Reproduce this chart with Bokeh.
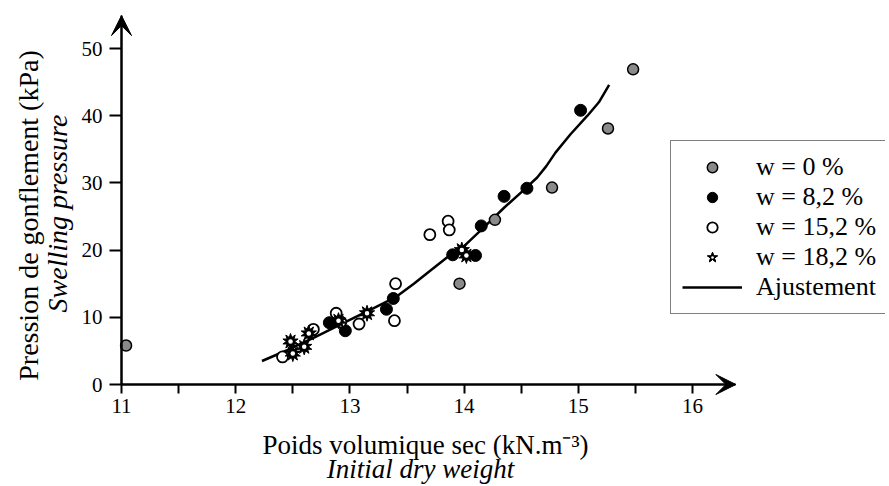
import math
from bokeh.plotting import figure
from bokeh.models import (Range1d, FixedTicker, Label, Legend, LegendItem,
                          Arrow, VeeHead, ColumnDataSource, LinearAxis)
from bokeh.embed import file_html
from bokeh.resources import INLINE

# ---------------- data ----------------
w0_x = [11.04, 13.96, 14.27, 14.77, 15.26, 15.48]
w0_y = [5.8, 15.0, 24.5, 29.3, 38.1, 46.9]

w82_x = [12.82, 12.96, 13.32, 13.38, 13.90, 14.10, 14.15, 14.35, 14.55, 15.02]
w82_y = [9.2, 8.0, 11.2, 12.8, 19.3, 19.2, 23.6, 28.0, 29.2, 40.8]

w152_x = [12.41, 12.68, 12.88, 12.92, 13.08, 13.39, 13.40, 13.70, 13.86, 13.87]
w152_y = [4.1, 8.2, 10.6, 9.3, 9.0, 9.5, 15.0, 22.3, 24.3, 23.0]

w182_x = [12.48, 12.50, 12.60, 12.64, 12.90, 13.15, 13.98, 14.02]
w182_y = [6.4, 4.6, 5.6, 7.6, 9.5, 10.6, 20.0, 19.2]

fit_x = [12.23, 12.45, 12.70, 12.95, 13.20, 13.40, 13.56, 13.70, 13.85, 14.00,
         14.15, 14.35, 14.50, 14.64, 14.72, 14.80, 14.93, 15.08, 15.18, 15.27]
fit_y = [3.5, 5.1, 7.1, 9.2, 11.3, 13.0, 15.0, 16.9, 18.9, 20.6,
         23.0, 26.3, 28.6, 30.8, 32.5, 34.5, 37.2, 40.0, 42.0, 44.6]

x_ticks = [11, 12, 13, 14, 15, 16]
x_minor = [11.5, 12.5, 13.5, 14.5, 15.5]
y_ticks = [0, 10, 20, 30, 40, 50]

labels = ["w = 0 %", "w = 8,2 %", "w = 15,2 %", "w = 18,2 %", "Ajustement"]
x_title = "Poids volumique sec (kN.m\u207b\u00b3)"
x_title2 = "Initial dry weight"
y_title = "Pression de gonflement (kPa)"
y_title2 = "Swelling pressure"

FONT = "Liberation Serif"

# ---------------- layout (pixels) ----------------
W, H = 885, 484
X0_PX, PX_X = 121, 114.2     # pixel of x=11, px per unit
Y0_PX, PX_Y = 384, 6.72      # pixel of y=0, px per unit

def dx(px):
    return 11 + (px - X0_PX) / PX_X

def dy(py):
    return (Y0_PX - py) / PX_Y

p = figure(width=W, height=H,
           x_range=Range1d(dx(0), dx(W)),
           y_range=Range1d(dy(H), dy(0)),
           x_axis_type=None, y_axis_type=None,
           output_backend="svg", toolbar_location=None,
           min_border=0)
p.grid.visible = False
p.outline_line_color = None
p.background_fill_color = "white"
p.border_fill_color = "white"

x_end = 16.38
y_end = 54.9

xa = LinearAxis(fixed_location=0)
ya = LinearAxis(fixed_location=11)
for ax in (xa, ya):
    ax.axis_line_width = 2
    ax.axis_line_color = "black"
    ax.major_tick_line_width = 2
    ax.minor_tick_line_width = 2
    ax.major_tick_in = 0
    ax.minor_tick_in = 0
    ax.major_label_text_font = FONT
    ax.major_label_text_font_size = "21px"
    ax.major_label_text_color = "black"

xa.ticker = FixedTicker(ticks=x_ticks, minor_ticks=x_minor)
xa.bounds = (11, x_end)
xa.major_tick_out = 9
xa.minor_tick_out = 9
xa.major_label_standoff = 5

ya.ticker = FixedTicker(ticks=y_ticks, minor_ticks=[])
ya.bounds = (0, y_end)
ya.major_tick_out = 12
ya.major_label_standoff = 7

p.add_layout(xa, "below")
p.add_layout(ya, "left")

# axis arrows
p.add_layout(Arrow(x_start=11, y_start=0, x_end=x_end, y_end=0, line_width=2,
                   line_color="black",
                   end=VeeHead(size=20, fill_color="black", line_color="black")))
p.add_layout(Arrow(x_start=11, y_start=0, x_end=11, y_end=y_end, line_width=2,
                   line_color="black",
                   end=VeeHead(size=20, fill_color="black", line_color="black")))

# fit
r_fit = p.line(fit_x, fit_y, line_width=2.5, line_color="black", line_join="round")

# data
r0 = p.scatter(w0_x, w0_y, marker="circle", size=11, fill_color="#8a8a8a",
               line_color="black", line_width=1.5)
r1 = p.scatter(w82_x, w82_y, marker="circle", size=12, fill_color="black",
               line_color="black", line_width=1)
r2 = p.scatter(w152_x, w152_y, marker="circle", size=11, fill_color="white",
               line_color="black", line_width=1.8)
src3 = ColumnDataSource(dict(x=w182_x, y=w182_y))
r3a = p.scatter("x", "y", source=src3, marker="star", size=16,
                fill_color="black", line_color="black", line_width=1)
r3b = p.scatter("x", "y", source=src3, marker="star", size=16, angle=math.pi / 5,
                fill_color="black", line_color="black", line_width=1)
r3c = p.scatter("x", "y", source=src3, marker="dot", size=18,
                line_color="white", fill_color="white")

legend = Legend(items=[
    LegendItem(label=labels[0], renderers=[r0]),
    LegendItem(label=labels[1], renderers=[r1]),
    LegendItem(label=labels[2], renderers=[r2]),
    LegendItem(label=labels[3], renderers=[r3a, r3b, r3c]),
    LegendItem(label=labels[4], renderers=[r_fit]),
], location=(670, H - 314))
legend.border_line_color = "black"
legend.border_line_width = 1.5
legend.label_text_font = FONT
legend.label_text_font_size = "26px"
legend.label_text_color = "black"
legend.glyph_width = 60
legend.glyph_height = 26
legend.label_height = 26
legend.spacing = 0
legend.padding = 11
legend.margin = 0
legend.label_standoff = 14
legend.background_fill_alpha = 1
p.add_layout(legend)

# axis titles
p.add_layout(Label(x=dx(262), y=dy(444), text=x_title,
                   text_font=FONT, text_font_size="27px", text_align="left",
                   text_baseline="alphabetic", text_color="black"))
p.add_layout(Label(x=dx(420), y=dy(468), text=x_title2,
                   text_font=FONT, text_font_size="27px", text_font_style="italic",
                   text_align="center", text_baseline="alphabetic", text_color="black"))
p.add_layout(Label(x=dx(28), y=dy(215), text=y_title,
                   angle=math.pi / 2, text_font=FONT, text_font_size="28px",
                   text_align="center", text_baseline="middle", text_color="black"))
p.add_layout(Label(x=dx(57), y=dy(213), text=y_title2,
                   angle=math.pi / 2, text_font=FONT, text_font_size="28px",
                   text_font_style="italic",
                   text_align="center", text_baseline="middle", text_color="black"))

open("out.html", "w").write(file_html(p, INLINE))
